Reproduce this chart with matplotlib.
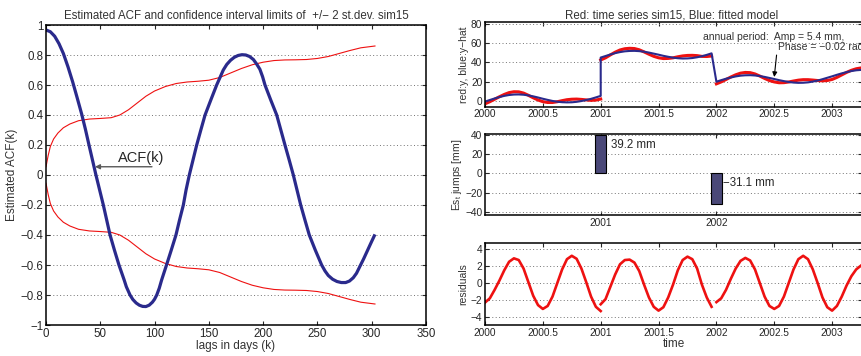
import numpy as np
import matplotlib
matplotlib.use("Agg")
import matplotlib.pyplot as plt

plt.rcParams['font.family'] = ['Liberation Sans', 'DejaVu Sans']

# ---------------- Left panel data: ACF and confidence limits ----------------
acf_lags = [0, 4, 8, 12, 16, 20.3, 24.6, 28.7, 32.9, 36.3, 39.6, 42.8, 46, 49.4, 52.8,
            55.9, 59, 63, 67.2, 72, 74, 77.4, 80, 83, 86, 89, 92, 95, 98, 100, 102,
            104.3, 106.5, 111, 115.4, 119.7, 123, 126.5, 129, 132, 135.4, 138.8, 142.6,
            146.5, 151.8, 157.2, 163.3, 166.5, 170, 173.5, 177, 180.5, 184, 187.5, 191,
            194, 197, 199.5, 201.7, 207, 212.5, 216.3, 220.1, 224, 227.8, 231.2, 234.6,
            238.5, 242.5, 248, 253.9, 257, 260, 264, 268, 272, 276, 279.5, 283, 286, 289,
            292.5, 296, 299.5, 303]
acf_vals = [0.967, 0.955, 0.925, 0.875, 0.81, 0.72, 0.62, 0.515, 0.405, 0.305, 0.2, 0.1,
            0.0, -0.1, -0.2, -0.3, -0.4, -0.5, -0.6, -0.7, -0.745, -0.8, -0.83, -0.853,
            -0.868, -0.876, -0.877, -0.868, -0.848, -0.828, -0.8, -0.755, -0.7, -0.6,
            -0.5, -0.4, -0.3, -0.2, -0.1, 0.0, 0.1, 0.2, 0.3, 0.4, 0.5, 0.6, 0.7, 0.737,
            0.765, 0.785, 0.797, 0.802, 0.8, 0.79, 0.77, 0.74, 0.705, 0.655, 0.6, 0.5,
            0.4, 0.3, 0.2, 0.1, 0.0, -0.1, -0.2, -0.3, -0.4, -0.5, -0.6, -0.64, -0.67,
            -0.695, -0.71, -0.717, -0.717, -0.707, -0.685, -0.655, -0.611, -0.56, -0.505,
            -0.45, -0.396]

conf_lags = [0, 2, 4, 7, 11, 16, 22, 30, 40, 50, 60, 68, 76, 84, 92, 100, 110, 120,
             130, 140, 150, 160, 170, 180, 190, 200, 210, 220, 230, 240, 250, 260, 270,
             280, 290, 303]
conf_upper = [0.055, 0.13, 0.19, 0.24, 0.28, 0.315, 0.34, 0.362, 0.373, 0.377, 0.382,
              0.40, 0.435, 0.48, 0.525, 0.56, 0.59, 0.61, 0.62, 0.625, 0.632, 0.65,
              0.68, 0.71, 0.735, 0.752, 0.763, 0.767, 0.768, 0.77, 0.777, 0.79, 0.81,
              0.83, 0.848, 0.86]
conf_lower = [-v for v in conf_upper]

# ---------------- Right panels data ----------------
# sample times: half-month grid
t_seg1 = 2000 + np.arange(0, 25) / 24.0     # 2000.0 .. 2001.0
t_seg2 = 2000 + np.arange(24, 48) / 24.0    # 2001.0 .. 2001.958
t_seg3 = 2000 + np.arange(48, 79) / 24.0    # 2002.0 .. 2003.25

fit_seg1 = [-1.0, 0.7, 2.3, 3.8, 5.0, 5.9, 6.4, 6.5, 6.2, 5.5, 4.5, 3.3, 2.0, 0.8, -0.3,
            -1.1, -1.6, -1.8, -1.7, -1.2, -0.4, 0.7, 1.9, 3.4, 5.0]
fit_seg2 = [45.0, 46.6, 48.2, 49.6, 50.7, 51.5, 51.9, 52.0, 51.7, 51.1, 50.2, 49.1, 48.0,
            46.8, 45.8, 44.9, 44.3, 44.0, 44.1, 44.5, 45.3, 46.4, 47.8, 49.4]
fit_seg3 = [19.8, 21.4, 22.9, 24.2, 25.3, 26.1, 26.5, 26.6, 26.3, 25.7, 24.8, 23.7, 22.6,
            21.4, 20.4, 19.5, 18.9, 18.6, 18.7, 19.1, 19.9, 21.0, 22.4, 23.9, 25.4, 27.0,
            28.5, 29.8, 30.9, 31.7, 32.1]

obs_seg1 = [-3.3, -1.1, 1.5, 4.1, 6.5, 8.4, 9.3, 9.2, 7.9, 5.6, 3.0, 0.7, -1.05, -1.9,
            -1.9, -1.1, 0.0, 1.0, 1.5, 1.65, 1.3, 0.8, 0.3, 0.6, 1.7]
obs_seg2 = [42.5, 44.7, 47.75, 50.6, 52.9, 54.2, 54.65, 54.4, 53.1, 50.9, 48.5, 46.3,
            44.75, 43.95, 44.1, 44.7, 45.8, 46.7, 47.2, 47.3, 47.0, 46.2, 46.1, 46.6]
obs_seg3 = [17.55, 19.6, 22.1, 24.7, 27.0, 28.7, 29.45, 29.25, 27.9, 25.7, 23.2, 21.0,
            19.55, 18.7, 18.8, 19.5, 20.5, 21.4, 21.9, 21.9, 21.5, 21.0, 20.7, 21.05,
            22.15, 24.3, 26.9, 29.5, 31.7, 33.3, 34.15]

res_seg1 = [-2.3, -1.8, -0.8, 0.3, 1.5, 2.5, 2.9, 2.7, 1.7, 0.1, -1.5, -2.6, -3.05, -2.7,
            -1.6, 0.0, 1.6, 2.8, 3.2, 2.85, 1.7, 0.1, -1.6, -2.8, -3.3]
res_seg2 = [-2.5, -1.9, -0.45, 1.0, 2.2, 2.7, 2.75, 2.4, 1.4, -0.2, -1.7, -2.8, -3.25,
            -2.85, -1.7, -0.2, 1.5, 2.7, 3.1, 2.8, 1.7, -0.2, -1.7, -2.8]
res_seg3 = [-2.25, -1.8, -0.8, 0.5, 1.7, 2.6, 2.95, 2.65, 1.6, 0.0, -1.6, -2.7, -3.05,
            -2.7, -1.6, 0.0, 1.6, 2.8, 3.2, 2.8, 1.6, 0.0, -1.7, -2.85, -3.25, -2.7,
            -1.6, -0.3, 0.8, 1.6, 2.05]

jump_times = [2001.0, 2002.0]
jump_sizes = [39.2, -31.1]
jump_labels = ['39.2 mm', '\u221231.1 mm']

# ---------------- Figure ----------------
W, H = 861, 356
fig = plt.figure(figsize=(W / 100, H / 100), dpi=100)

def frac(x0, y_top, x1, y_bot):
    return [x0 / W, 1 - y_bot / H, (x1 - x0) / W, (y_bot - y_top) / H]

BLUE = '#2a2a8c'
RED = '#ee1111'
GRID = dict(color='0.45', linestyle=(0, (1, 2.5)), linewidth=0.7)

def style(ax, fs):
    for s in ax.spines.values():
        s.set_linewidth(1.1)
    ax.tick_params(direction='in', top=True, right=True, length=3, width=0.8,
                   labelsize=fs, pad=2, colors='0.15')
    ax.yaxis.grid(True, **GRID)
    ax.set_axisbelow(True)

# Left panel
ax = fig.add_axes(frac(46, 25, 426, 325))
ax.plot(conf_lags, conf_upper, color=RED, lw=0.8)
ax.plot(conf_lags, conf_lower, color=RED, lw=0.8)
ax.plot(acf_lags, acf_vals, color=BLUE, lw=2.3, solid_capstyle='butt')
ax.set_xlim(0, 350)
ax.set_ylim(-1, 1)
ax.set_xticks(np.arange(0, 351, 50))
ax.set_yticks(np.round(np.arange(-1, 1.01, 0.2), 1))
ax.set_yticklabels(['\u22121', '\u22120.8', '\u22120.6', '\u22120.4', '\u22120.2', '0',
                    '0.2', '0.4', '0.6', '0.8', '1'])
style(ax, 8.3)
ax.set_title('Estimated ACF and confidence interval limits of  +/\u2212 2 st.dev. sim15',
             fontsize=8.3, pad=4, color='0.2')
ax.set_xlabel('lags in days (k)', fontsize=8.5, labelpad=0, color='0.2')
ax.set_ylabel('Estimated ACF(k)', fontsize=8.5, labelpad=2, color='0.2')
ax.annotate('', xy=(45.1, 0.055), xytext=(97.6, 0.055),
            arrowprops=dict(arrowstyle='-|>', color='0.35', lw=1.0,
                            mutation_scale=7, shrinkA=0, shrinkB=0))
ax.text(87.5, 0.113, 'ACF(k)', fontsize=10.5, ha='center', va='center', color='0.15')

XMAX = 2000 + 377 / 115.7

# Right top
ax1 = fig.add_axes(frac(485, 22.3, 862, 106.7))
for t, v in [(t_seg1, obs_seg1), (t_seg2, obs_seg2), (t_seg3, obs_seg3)]:
    ax1.plot(t, v, color=RED, lw=2.2)
ax1.plot(np.concatenate([t_seg1, t_seg2, t_seg3]),
         np.concatenate([fit_seg1, fit_seg2, fit_seg3]), color=BLUE, lw=1.5)
ax1.set_xlim(2000, XMAX)
ax1.set_ylim(-6.3, 81.8)
ax1.set_yticks([0, 20, 40, 60, 80])
ax1.set_xticks([2000, 2000.5, 2001, 2001.5, 2002, 2002.5, 2003])
ax1.set_xticklabels(['2000', '2000.5', '2001', '2001.5', '2002', '2002.5', '2003'])
style(ax1, 7.3)
ax1.set_title('Red: time series sim15, Blue: fitted model', fontsize=8.3, pad=3,
              color='0.2', loc='center', x=(671.7 - 485) / 377)
ax1.set_ylabel('red:y, blue:y\u2212hat', fontsize=7.5, labelpad=1, color='0.2')
ax1.text(2001.884, 66.8, 'annual period:  Amp = 5.4 mm,', fontsize=7.5, va='center',
         ha='left', color='0.2')
ax1.text(2002.532, 55.7, 'Phase = \u22120.02 rad', fontsize=7.5, va='center', ha='left',
         color='0.2')
ax1.annotate('', xy=(2002.50, 24.7), xytext=(2002.52, 47.6),
             arrowprops=dict(arrowstyle='-|>', color='k', lw=0.8, mutation_scale=7,
                             shrinkA=0, shrinkB=0))

# Right middle
ax2 = fig.add_axes(frac(485, 134, 862, 215))
ax2.bar(jump_times, jump_sizes, width=0.1, color='#4a4878', edgecolor='k', lw=0.8,
        zorder=3)
for t, v, lab in zip(jump_times, jump_sizes, jump_labels):
    ax2.text(t + 0.085 if v > 0 else t + 0.06, 29.3 if v > 0 else -9.7, lab,
             fontsize=8.3, va='center', ha='left', color='0.15')
ax2.set_xlim(2000, XMAX)
ax2.set_ylim(-42.8, 40.7)
ax2.set_yticks([-40, -20, 0, 20, 40])
ax2.set_xticks([2001, 2002])
ax2.set_xticklabels(['2001', '2002'])
style(ax2, 7.3)
ax2.set_ylabel('Es$_{\\mathregular{t}}$ jumps [mm]', fontsize=7.5, labelpad=1, color='0.2')

# Right bottom
ax3 = fig.add_axes(frac(485, 242.7, 862, 325))
for t, v in [(t_seg1, res_seg1), (t_seg2, res_seg2), (t_seg3, res_seg3)]:
    ax3.plot(t, v, color=RED, lw=1.9)
ax3.set_xlim(2000, XMAX)
ax3.set_ylim(-4.94, 4.74)
ax3.set_yticks([-4, -2, 0, 2, 4])
ax3.set_xticks([2000, 2000.5, 2001, 2001.5, 2002, 2002.5, 2003])
ax3.set_xticklabels(['2000', '2000.5', '2001', '2001.5', '2002', '2002.5', '2003'])
style(ax3, 7.3)
ax3.set_ylabel('residuals', fontsize=7.5, labelpad=2, color='0.2')
ax3.set_xlabel('time', fontsize=8.5, labelpad=0, color='0.2')

fig.savefig('out.png', dpi=100)
